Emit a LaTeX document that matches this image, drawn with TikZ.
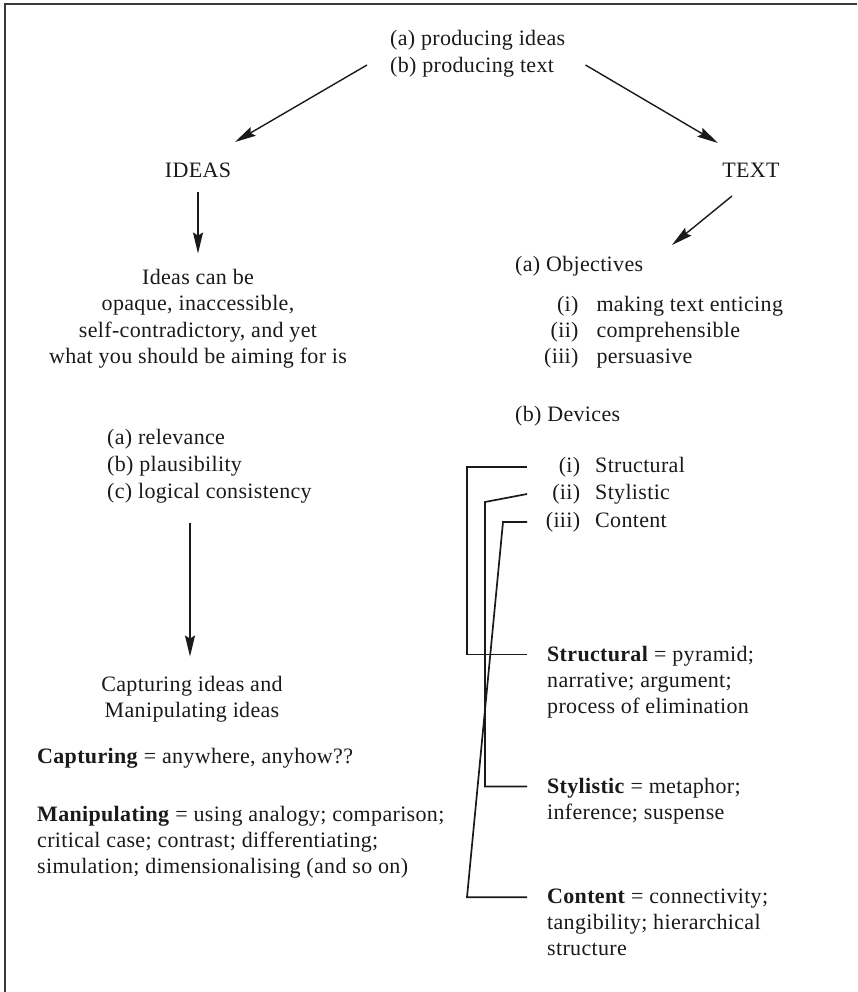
\documentclass[tikz,border=0pt]{standalone}
\usepackage{fontspec}
\setmainfont[LetterSpace=1.5]{Liberation Serif}
\usetikzlibrary{arrows.meta,calc}
\definecolor{ink}{HTML}{1A1A1A}
\definecolor{framegray}{HTML}{3A3A3A}
\begin{document}
\begin{tikzpicture}[x=1pt,y=-1pt,
  txt/.style={inner sep=0pt, font=\fontsize{22}{26}\selectfont, text=ink},
  arr/.style={draw=ink, line width=1.4pt, -{Stealth[length=21pt,width=10pt,inset=3pt]}},
  tie/.style={draw=ink, line width=1.7pt},
  frame/.style={draw=framegray, line width=2pt}]
\useasboundingbox (0,0) rectangle (857,992);
\fill[white] (0,0) rectangle (857,992);
\draw[frame] (5,992) -- (5,4) -- (857,4);

% heading and the two branches (base of a multi-line node = its last line)
\node[txt, anchor=base west, align=left, font=\fontsize{22}{27}\selectfont] (top) at (390,73)
  {(a) producing ideas\\(b) producing text};
\node[txt, anchor=base] (ideas) at (198,178) {IDEAS};
\node[txt, anchor=base] (text) at (751,178) {TEXT};

% ideas branch
\node[txt, anchor=base, align=center, font=\fontsize{22}{26.5}\selectfont] (canbe) at (198,363.5)
  {Ideas can be\\opaque, inaccessible,\\self-contradictory, and yet\\what you should be aiming for is};
\node[txt, anchor=base west, align=left, font=\fontsize{22}{27}\selectfont] (aims) at (107,498)
  {(a) relevance\\(b) plausibility\\(c) logical consistency};
\node[txt, anchor=base, align=center] (capman) at (192,717) {Capturing ideas and\\Manipulating ideas};
\node[txt, anchor=base west] (capt) at (37,763) {\textbf{Capturing} = anywhere, anyhow??};
\node[txt, anchor=base west, align=left] (manip) at (37,873)
  {\textbf{Manipulating} = using analogy; comparison;\\critical case; contrast; differentiating;\\simulation; dimensionalising (and so on)};

% text branch
\node[txt, anchor=base west] (obj) at (515,271) {(a) Objectives};
\node[txt, anchor=base west] (objlist) at (544,311)
  {\begin{tabular}[t]{@{}r@{\hspace{18pt}}l@{}}(i)&making text enticing\\(ii)&comprehensible\\(iii)&persuasive\end{tabular}};
\node[txt, anchor=base west] (dev) at (515,421) {(b) Devices};
\node[txt, anchor=base west] (d1) at (546,472) {\makebox[34pt][r]{(i)}\hspace{15pt}Structural};
\node[txt, anchor=base west] (d2) at (546,499) {\makebox[34pt][r]{(ii)}\hspace{15pt}Stylistic};
\node[txt, anchor=base west] (d3) at (546,527) {\makebox[34pt][r]{(iii)}\hspace{15pt}Content};
\node[txt, anchor=base west, align=left] (st) at (547,713) {\textbf{Structural} = pyramid;\\narrative; argument;\\process of elimination};
\node[txt, anchor=base west, align=left] (sy) at (547,819) {\textbf{Stylistic} = metaphor;\\inference; suspense};
\node[txt, anchor=base west, align=left] (co) at (547,955) {\textbf{Content} = connectivity;\\tangibility; hierarchical\\structure};

% arrows
\draw[arr] ([xshift=-23pt,yshift=8pt]top.base west) -- ([xshift=37pt,yshift=36pt]ideas.base);
\draw[arr] ([xshift=20pt,yshift=8pt]top.base east) -- ([xshift=-33pt,yshift=35pt]text.base);
\draw[arr] ([yshift=-14pt]ideas.base) -- ([yshift=15pt]canbe.north);
\draw[arr] ($(aims.south -| capman.north)+(-2,20)$) -- ([xshift=-2pt,yshift=19pt]capman.north);
\draw[arr] ([xshift=-19pt,yshift=-18pt]text.base) -- ([xshift=157pt,yshift=26pt]obj.base west);

% device brackets
\draw[tie] ([xshift=-19pt,yshift=5pt]d1.base west) -- ++(-60,0) |- ([xshift=-20pt,yshift=-9pt]st.north west);
\draw[tie] ([xshift=-19pt,yshift=5pt]d2.base west) -- ++(-42,8) |- ([xshift=-20pt,yshift=-9pt]sy.north west);
\draw[tie] ([xshift=-19pt,yshift=5pt]d3.base west) -- ++(-24,0) -- ([xshift=-80pt,yshift=-9pt]co.north west) -- ([xshift=-20pt,yshift=-9pt]co.north west);
\end{tikzpicture}
\end{document}
